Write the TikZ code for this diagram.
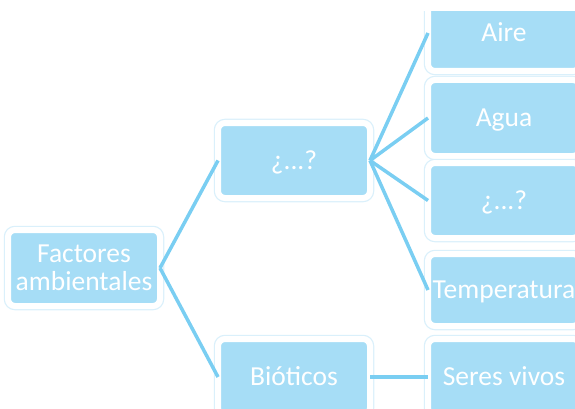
\documentclass[tikz,border=0pt]{standalone}
\usepackage{fontspec}
\setmainfont{Carlito}
\definecolor{boxfill}{RGB}{166,221,246}
\definecolor{glow}{RGB}{218,240,251}
\definecolor{linkc}{RGB}{122,206,242}
\begin{document}
\begin{tikzpicture}[x=1pt,y=-1pt,
  box/.style={preaction={draw=glow,line width=8.5pt},fill=boxfill,draw=white,line width=6pt,
    rounded corners=7pt,inner sep=0pt,outer sep=0pt,minimum width=152pt,
    text=white,font=\fontsize{27.5}{28}\selectfont},
  onebox/.style={box,text height=17.4pt,text depth=0pt},
  link/.style={draw=linkc,line width=3.5pt}]
\useasboundingbox (0,0) rectangle (575,409);
\node[box,align=center,minimum height=76pt] (fac) at (84,268) {\raisebox{-3pt}{Factores}\\\raisebox{-3pt}{ambientales}};
\node[onebox,minimum height=75pt] (q1) at (294,160.5) {¿...?};
\node[onebox,minimum height=76pt] (bio) at (294,377) {Bióticos};
\begin{scope}
\clip (0,12) rectangle (600,420);
\node[onebox,minimum height=76pt] (aire) at (504,33) {Aire};
\end{scope}
\node[onebox,minimum height=76pt] (agua) at (504,118) {Agua};
\node[onebox,minimum height=75pt] (q2) at (504,200.5) {¿...?};
\node[onebox,minimum height=72pt] (temp) at (504,290) {Temperatura};
\node[onebox,minimum height=76pt] (seres) at (504,377) {Seres vivos};
\draw[link] (fac.east) -- (q1.west);
\draw[link] (fac.east) -- (bio.west);
\draw[link] (q1.east) -- (aire.west);
\draw[link] (q1.east) -- (agua.west);
\draw[link] (q1.east) -- (q2.west);
\draw[link] (q1.east) -- (temp.west);
\draw[link] (bio.east) -- (seres.west);
\end{tikzpicture}
\end{document}
